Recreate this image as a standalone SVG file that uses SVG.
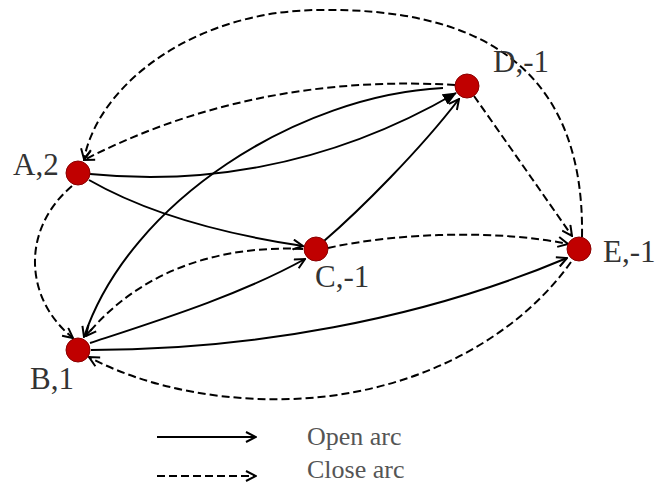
<svg xmlns="http://www.w3.org/2000/svg" width="659" height="486" viewBox="0 0 659 486">
<style>
.e{fill:none;stroke:#000;stroke-width:2}
.d{stroke-dasharray:8 4}
.n{fill:#c00000;stroke:#8a0000;stroke-width:1}
.t{font-family:"Liberation Serif","Times New Roman",serif;font-size:31px;fill:#333}
.l{font-family:"Liberation Serif","Times New Roman",serif;font-size:26px;fill:#555}
</style>
<defs>
<marker id="ar" viewBox="0 0 12 12" refX="11" refY="6" markerWidth="12" markerHeight="12" markerUnits="userSpaceOnUse" orient="auto">
<path d="M1,1 L11,6 L1,11" fill="none" stroke="#000" stroke-width="2" stroke-dasharray="none"/>
</marker>
<marker id="af" viewBox="0 0 14 12" refX="13" refY="6" markerWidth="14" markerHeight="12" markerUnits="userSpaceOnUse" orient="auto">
<path d="M0,0 L14,6 L0,12 z" fill="#000"/>
</marker>
</defs>
<g id="connectors">
<path class="e" d="M90 174 C190 184 320 172 456 93" marker-end="url(#af)"/>
<path class="e" d="M443 88 C300 95 130 200 84 337" marker-end="url(#ar)"/>
<path class="e" d="M89 180 C150 215 230 235 303 246" marker-end="url(#ar)"/>
<path class="e" d="M324 241 C360 210 420 150 459 99" marker-end="url(#ar)"/>
<path class="e" d="M90 343 C160 320 240 295 305 259" marker-end="url(#ar)"/>
<path class="e" d="M91 350 C250 350 420 320 567 258" marker-end="url(#ar)"/>
<path class="e d" d="M455 85 C340 78 210 95 84 160" marker-end="url(#ar)"/>
<path class="e d" d="M582 237 C585 60 470 8 320 10 C200 10 100 80 84 159" marker-end="url(#ar)"/>
<path class="e d" d="M72 186 C20 230 25 300 73 338" marker-end="url(#ar)"/>
<path class="e d" d="M303 249 C220 245 140 270 86 336" marker-end="url(#ar)"/>
<path class="e d" d="M328 248 C400 232 500 230 568 244" marker-end="url(#ar)"/>
<path class="e d" d="M474 96 C505 140 540 190 572 236" marker-end="url(#ar)"/>
<path class="e d" d="M571 262 C530 320 450 380 330 396 C230 408 140 385 89 357" marker-end="url(#ar)"/>
</g>
<g id="A"><circle class="n" cx="78" cy="173" r="12"/><text class="t" x="13" y="175">A,2</text></g>
<g id="B"><circle class="n" cx="78" cy="350" r="12"/><text class="t" x="30" y="389">B,1</text></g>
<g id="C"><circle class="n" cx="316" cy="249" r="12"/><text class="t" x="315" y="287">C,-1</text></g>
<g id="D"><circle class="n" cx="467" cy="86" r="12"/><text class="t" x="493" y="72">D,-1</text></g>
<g id="E"><circle class="n" cx="579" cy="249" r="12"/><text class="t" x="603" y="262">E,-1</text></g>
<g id="legend">
<path class="e" d="M157 437 L256 437" marker-end="url(#ar)"/>
<text class="l" x="307" y="445">Open arc</text>
<path class="e d" d="M157 476 L256 476" marker-end="url(#ar)"/>
<text class="l" x="307" y="478">Close arc</text>
</g>
</svg>
